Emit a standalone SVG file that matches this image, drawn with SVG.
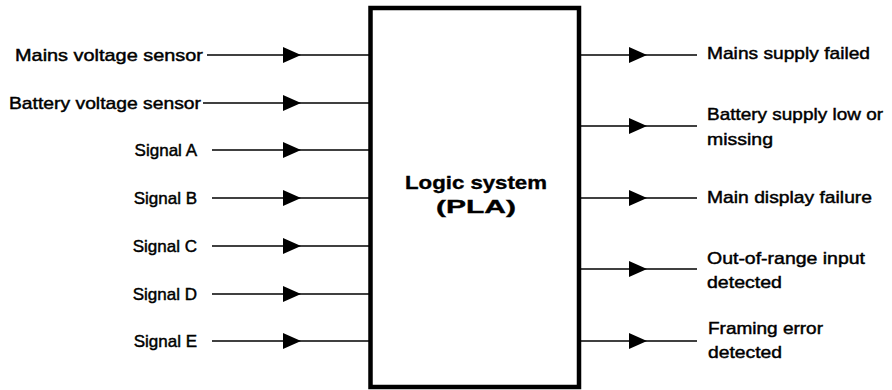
<svg xmlns="http://www.w3.org/2000/svg" width="892" height="390" viewBox="0 0 892 390">
<defs>
<style>
text{font-family:"Liberation Sans",Arial,Helvetica,sans-serif;font-size:17px;fill:#000;stroke:#000;stroke-width:0.45}
.r{text-anchor:end}
.t{font-weight:bold;font-size:18.5px;text-anchor:middle;stroke-width:0.35}
.c{fill:none;stroke:#000;stroke-width:1.6;marker-mid:url(#ah)}
.box{fill:#fff;stroke:#000;stroke-width:4.5}
</style>
<marker id="ah" markerUnits="userSpaceOnUse" markerWidth="18" markerHeight="16" refX="18" refY="8" orient="auto" viewBox="0 0 18 16">
<path d="M0,0 L18,8 L0,16 z" fill="#000"/>
</marker>
</defs>
<g id="connectors">
<path class="c" d="M207,55 L301,55 L371,55"/>
<path class="c" d="M203,103 L301,103 L371,103"/>
<path class="c" d="M212,150 L301,150 L371,150"/>
<path class="c" d="M212,198 L301,198 L371,198"/>
<path class="c" d="M212,246 L301,246 L371,246"/>
<path class="c" d="M212,294 L301,294 L371,294"/>
<path class="c" d="M212,341 L301,341 L371,341"/>
<path class="c" d="M579,55 L647,55 L697,55"/>
<path class="c" d="M579,126 L647,126 L697,126"/>
<path class="c" d="M579,198 L647,198 L697,198"/>
<path class="c" d="M579,269 L647,269 L697,269"/>
<path class="c" d="M579,341 L647,341 L697,341"/>
</g>
<g id="logic-system">
<rect class="box" x="370.5" y="8" width="208.5" height="379"/>
<text class="t" x="476" y="189" textLength="142" lengthAdjust="spacingAndGlyphs">Logic system</text>
<text class="t" x="476" y="213" textLength="80" lengthAdjust="spacingAndGlyphs">(PLA)</text>
</g>
<g id="in-mains"><text x="15" y="61" textLength="188" lengthAdjust="spacingAndGlyphs">Mains voltage sensor</text></g>
<g id="in-battery"><text x="9" y="109" textLength="192" lengthAdjust="spacingAndGlyphs">Battery voltage sensor</text></g>
<g id="in-a"><text class="r" x="197" y="156">Signal A</text></g>
<g id="in-b"><text class="r" x="197" y="204">Signal B</text></g>
<g id="in-c"><text class="r" x="197" y="252">Signal C</text></g>
<g id="in-d"><text class="r" x="197" y="300">Signal D</text></g>
<g id="in-e"><text class="r" x="197" y="347">Signal E</text></g>
<g id="out-mains"><text x="707" y="59" textLength="163" lengthAdjust="spacingAndGlyphs">Mains supply failed</text></g>
<g id="out-battery">
<text x="707" y="120" textLength="176" lengthAdjust="spacingAndGlyphs">Battery supply low or</text>
<text x="707" y="145" textLength="66" lengthAdjust="spacingAndGlyphs">missing</text>
</g>
<g id="out-display"><text x="707" y="203" textLength="165" lengthAdjust="spacingAndGlyphs">Main display failure</text></g>
<g id="out-range">
<text x="707" y="264" textLength="158" lengthAdjust="spacingAndGlyphs">Out-of-range input</text>
<text x="707" y="288" textLength="75" lengthAdjust="spacingAndGlyphs">detected</text>
</g>
<g id="out-framing">
<text x="708" y="334" textLength="115" lengthAdjust="spacingAndGlyphs">Framing error</text>
<text x="708" y="358" textLength="74" lengthAdjust="spacingAndGlyphs">detected</text>
</g>
</svg>
